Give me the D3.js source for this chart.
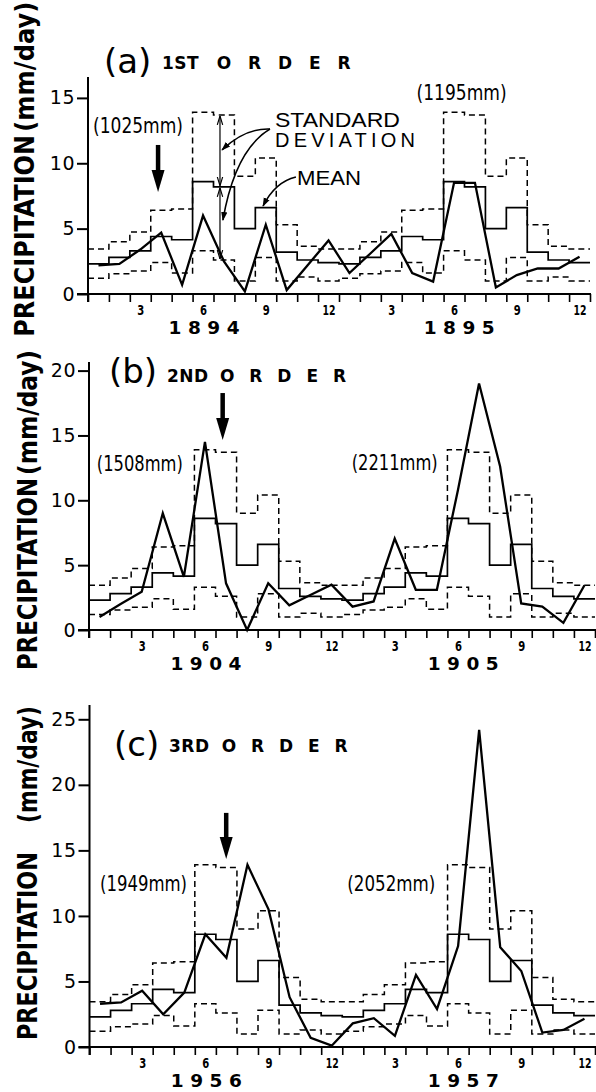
<!DOCTYPE html>
<html><head><meta charset="utf-8">
<script src="https://cdn.jsdelivr.net/npm/d3@7"></script>
<style>body{margin:0;background:#fff} svg{display:block}</style>
</head><body>
<svg id="c" width="596" height="1092"></svg>
<script>
// ---------- DATA ----------
const monthTickLabels = ["3","6","9","12","3","6","9","12"];
const meanClim  = [2.3,2.8,3.3,4.4,4.15,8.6,8.2,5.0,6.6,3.2,2.6,2.4];
const upperClim = [3.45,4.0,4.75,6.4,6.5,13.9,13.7,9.0,10.4,5.3,3.65,3.45];
const lowerClim = [1.2,1.55,1.75,2.4,1.6,3.3,2.6,1.0,2.8,1.0,1.3,1.0];
const obsA = [2.2,2.3,3.4,4.7,0.7,6.0,2.5,0.2,5.3,0.3,2.2,4.1, 1.6,3.1,4.6,1.6,0.95,8.5,8.5,0.5,1.45,1.95,1.95,2.85];
const obsB = [1.0,2.0,2.95,9.0,4.1,14.5,3.6,0.0,3.6,1.9,2.7,3.5, 1.8,2.2,7.05,3.1,3.1,10.8,19.0,12.6,2.05,1.8,0.55,3.45];
const obsC = [3.3,3.4,4.3,2.5,4.15,8.6,6.8,13.9,10.5,3.8,0.7,0.1, 1.8,2.2,0.85,5.5,2.9,7.7,24.2,7.6,5.8,1.1,1.3,2.15];
const yearsA = ["1894","1895"], yearsB = ["1904","1905"], yearsC = ["1956","1957"];
const totalsA = ["(1025mm)","(1195mm)"], totalsB = ["(1508mm)","(2211mm)"], totalsC = ["(1949mm)","(2052mm)"];
const yTicksA = [0,5,10,15], yTicksB = [0,5,10,15,20], yTicksC = [0,5,10,15,20,25];
const panelLetters = ["(a)","(b)","(c)"];
const panelOrders = ["1ST","2ND","3RD"];
const orderWord = "ORDER";
const yLabelMain = "PRECIPITATION", yLabelUnit = "(mm/day)";

// ---------- LAYOUT ----------
const panels = [
  {obs:obsA, years:yearsA, totals:totalsA, ticks:yTicksA, ymax:15, x0:88, x1:590, y0:294, yTop:97.9, axisTop:77,
   letter:{x:104,y:73}, order:{x:162,y:69}, word:{x:216.7,y:69,len:134},
   ylab:{x:33.5, mainBottom:336.7, mainLen:201.7, unitBottom:131.7, unitLen:130, size:27},
   tot:[{m:0.24,v:12.3,len:90},{m:15.71,v:14.85,len:90}], arrow:{m:3.35,v1:11.4,v2:7.8}},
  {obs:obsB, years:yearsB, totals:totalsB, ticks:yTicksB, ymax:20, x0:89, x1:595, y0:630, yTop:370.6, axisTop:362,
   letter:{x:109,y:383}, order:{x:167,y:382}, word:{x:220,y:382,len:126},
   ylab:{x:36.5, mainBottom:670, mainLen:192, unitBottom:475, unitLen:125, size:26},
   tot:[{m:0.37,v:12.26,len:86},{m:12.46,v:12.34,len:86}], arrow:{m:6.34,v1:18.27,v2:14.65}},
  {obs:obsC, years:yearsC, totals:totalsC, ticks:yTicksC, ymax:25, x0:89.5, x1:595, y0:1047, yTop:719.3, axisTop:705,
   letter:{x:114,y:756}, order:{x:169,y:752}, word:{x:221.7,y:752,len:126},
   ylab:{x:36.5, mainBottom:1040, mainLen:188, unitBottom:823, unitLen:117, size:26},
   tot:[{m:0.5,v:11.9,len:87},{m:12.24,v:11.9,len:88}], arrow:{m:6.49,v1:17.86,v2:14.35}}
];

const svg = d3.select("#c");
svg.append("rect").attr("width",596).attr("height",1092).attr("fill","#fff");
const defs = svg.append("defs");
defs.append("marker").attr("id","tri").attr("viewBox","0 0 10 10").attr("refX",9).attr("refY",5)
  .attr("markerWidth",9).attr("markerHeight",9).attr("markerUnits","userSpaceOnUse").attr("orient","auto")
  .append("path").attr("d","M0,1.5 L10,5 L0,8.5 Z").attr("fill","#000");
defs.append("marker").attr("id","vee").attr("viewBox","0 0 10 10").attr("refX",10).attr("refY",5)
  .attr("markerWidth",9).attr("markerHeight",9).attr("markerUnits","userSpaceOnUse").attr("orient","auto-start-reverse")
  .append("path").attr("d","M0,2 L10,5 L0,8").attr("fill","none").attr("stroke","#000").attr("stroke-width",1.3);

panels.forEach((p, pi) => {
  const g = svg.append("g");
  const x = d3.scaleLinear().domain([0,24]).range([p.x0,p.x1]);
  const y = d3.scaleLinear().domain([0,p.ymax]).range([p.y0,p.yTop]);

  // climatology steps
  const clim = arr => d3.range(25).map(i => ({m:i, v:arr[Math.min(i,23) % 12]}));
  const step = d3.line().x(d => x(d.m)).y(d => y(d.v)).curve(d3.curveStepAfter);
  [upperClim, lowerClim].forEach(arr => {
    g.append("path").attr("d", step(clim(arr))).attr("fill","none").attr("stroke","#000")
      .attr("stroke-width",1.5).attr("stroke-dasharray","6,4");
  });
  g.append("path").attr("d", step(clim(meanClim))).attr("fill","none").attr("stroke","#000").attr("stroke-width",1.7);

  // observed
  const line = d3.line().x((d,i) => x(i+0.5)).y(d => y(d));
  g.append("path").attr("d", line(p.obs)).attr("fill","none").attr("stroke","#000")
    .attr("stroke-width",2.3).attr("stroke-linejoin","miter");

  // y axis
  g.append("g").attr("transform",`translate(${p.x0},0)`)
    .call(d3.axisLeft(y).tickValues(p.ticks).tickSize(11).tickPadding(2).tickFormat(d3.format("d")))
    .call(a => a.select(".domain").remove())
    .call(a => a.selectAll("line").attr("stroke","#000").attr("stroke-width",2))
    .call(a => a.selectAll("text").attr("font-family","DejaVu Sans").attr("font-size",19)
      .attr("letter-spacing",0.5).attr("fill","#000"));
  g.append("line").attr("x1",p.x0).attr("x2",p.x0).attr("y1",p.y0+8).attr("y2",p.axisTop)
    .attr("stroke","#000").attr("stroke-width",2);
  // x axis
  g.append("line").attr("x1",p.x0-11).attr("x2",p.x1+1).attr("y1",p.y0).attr("y2",p.y0)
    .attr("stroke","#000").attr("stroke-width",2.2);
  g.append("g").attr("transform",`translate(0,${p.y0})`)
    .call(d3.axisBottom(x).tickValues(d3.range(25)).tickSize(8).tickFormat(""))
    .call(a => a.select(".domain").remove())
    .call(a => a.selectAll("line").attr("stroke","#000").attr("stroke-width",1.6));
  g.append("g").attr("transform",`translate(0,${p.y0})`)
    .call(d3.axisBottom(x).tickValues(d3.range(2,24,3).map(m => m+0.5)).tickSize(0).tickPadding(11)
      .tickFormat((d,i) => monthTickLabels[i]))
    .call(a => a.select(".domain").remove())
    .call(a => a.selectAll("text").attr("font-family","DejaVu Sans Condensed, DejaVu Sans").attr("font-weight","bold")
      .attr("font-size",14.5).attr("fill","#000")
      .attr("textLength", (d,i) => monthTickLabels[i].length > 1 ? 13 : 7).attr("lengthAdjust","spacingAndGlyphs"));

  // year labels
  [5.55, 17.75].forEach((m, i) => {
    g.append("text").attr("x", x(m)+3.2).attr("y", p.y0+40).attr("text-anchor","middle")
      .attr("font-family","DejaVu Sans").attr("font-weight","bold").attr("font-size",18.5)
      .attr("letter-spacing",6.5).text(p.years[i]);
  });

  // titles
  g.append("text").attr("x",p.letter.x).attr("y",p.letter.y).attr("font-family","DejaVu Sans")
    .attr("font-size",34).text(panelLetters[pi]);
  g.append("text").attr("x",p.order.x).attr("y",p.order.y).attr("font-family","DejaVu Sans")
    .attr("font-weight","bold").attr("font-size",17).attr("letter-spacing",0.5).text(panelOrders[pi]);
  g.append("text").attr("x",p.word.x).attr("y",p.word.y).attr("font-family","DejaVu Sans")
    .attr("font-weight","bold").attr("font-size",17).attr("textLength",p.word.len)
    .attr("lengthAdjust","spacing").text(orderWord);

  // y label
  const yl = p.ylab;
  [[yLabelMain, yl.mainBottom, yl.mainLen],[yLabelUnit, yl.unitBottom, yl.unitLen]].forEach(([t,b,len]) => {
    g.append("text").attr("transform",`translate(${yl.x},${b}) rotate(-90)`)
      .attr("font-family","DejaVu Sans Condensed, DejaVu Sans").attr("font-weight","bold").attr("font-size",yl.size)
      .attr("textLength",len).attr("lengthAdjust","spacingAndGlyphs").text(t);
  });

  // totals
  p.tot.forEach((t,i) => {
    g.append("text").attr("x",x(t.m)).attr("y",y(t.v)).attr("font-family","DejaVu Sans Condensed, DejaVu Sans")
      .attr("font-size",22).attr("textLength",t.len).attr("lengthAdjust","spacingAndGlyphs").text(p.totals[i]);
  });

  // thick down arrow
  const ax = x(p.arrow.m), ay1 = y(p.arrow.v1), ay2 = y(p.arrow.v2);
  g.append("line").attr("x1",ax).attr("x2",ax).attr("y1",ay1).attr("y2",ay2-18)
    .attr("stroke","#000").attr("stroke-width",4.5);
  g.append("path").attr("d",`M${ax-6.5},${ay2-22} L${ax+6.5},${ay2-22} L${ax},${ay2} Z`).attr("fill","#000");

  // annotation for panel (a)
  if (pi === 0) {
    const font = "Liberation Sans, Arial, sans-serif";
    g.append("text").attr("x",x(8.94)).attr("y",y(12.78)).attr("font-family",font).attr("font-size",20)
      .attr("textLength",125).attr("lengthAdjust","spacingAndGlyphs").text("STANDARD");
    g.append("text").attr("x",x(8.94)).attr("y",y(11.25)).attr("font-family",font).attr("font-size",20)
      .attr("textLength",140).attr("lengthAdjust","spacing").text("DEVIATION");
    g.append("text").attr("x",x(9.99)).attr("y",y(8.34)).attr("font-family",font).attr("font-size",20)
      .attr("textLength",64).attr("lengthAdjust","spacingAndGlyphs").text("MEAN");
    const q = (a,c,b) => `M${x(a[0])},${y(a[1])} Q${x(c[0])},${y(c[1])} ${x(b[0])},${y(b[1])}`;
    [[[8.70,12.62],[7.51,12.70],[6.41,11.02]],
     [[8.70,12.62],[7.03,11.02],[6.45,5.66]],
     [[9.94,8.95],[8.94,8.57],[8.37,6.73]]].forEach(c => {
      g.append("path").attr("d", q(...c)).attr("fill","none").attr("stroke","#000")
        .attr("stroke-width",1.6).attr("marker-end","url(#tri)");
    });
    const dx = x(6.31);
    [[upperClim[6], meanClim[6]],[meanClim[6], lowerClim[6]]].forEach(([a,b]) => {
      g.append("line").attr("x1",dx).attr("x2",dx).attr("y1",y(a)+1).attr("y2",y(b)-1)
        .attr("stroke","#000").attr("stroke-width",1.2)
        .attr("marker-start","url(#vee)").attr("marker-end","url(#vee)");
    });
  }
});
</script>
</body></html>
